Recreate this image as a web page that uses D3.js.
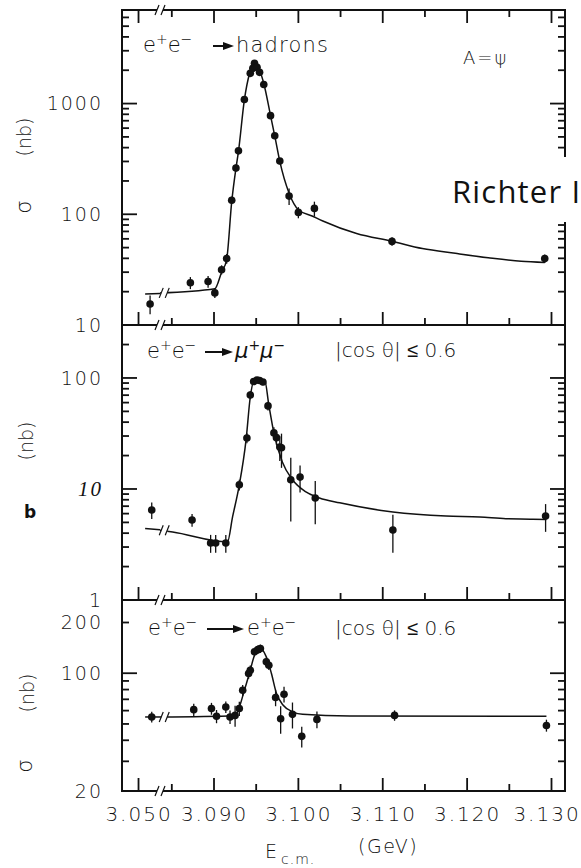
<!DOCTYPE html>
<html>
<head>
<meta charset="utf-8">
<script src="https://d3js.org/d3.v7.min.js"></script>
<style>
  body { margin: 0; background: #fff; }
  svg text { font-family: "DejaVu Sans", sans-serif; font-weight: 300; fill: #111; }
</style>
</head>
<body>
<script>
// x axis in GeV, broken between 3.0526 and 3.0836
var xMajor = [3.050, 3.090, 3.100, 3.110, 3.120, 3.130];
var xMinor = [3.085, 3.095, 3.105, 3.115, 3.125];
var xLabels = ["3.050", "3.090", "3.100", "3.110", "3.120", "3.130"];

// e+e- -> hadrons
var hadE   = [3.0514, 3.0872, 3.0893, 3.0901, 3.0909, 3.0915, 3.0921, 3.0926, 3.0929, 3.0936, 3.0943, 3.0946,
              3.0948, 3.0951, 3.0954, 3.0959, 3.0967, 3.0972, 3.0978, 3.0989, 3.1000, 3.1019, 3.1111, 3.1292];
var hadSig = [15.5, 24.1, 24.7, 19.5, 31.6, 39.8, 134, 262, 374, 1087, 1874, 2080,
              2310, 2125, 1915, 1488, 778, 512, 303, 146, 104, 113, 56.9, 39.8];
var hadErr = [3, 3, 3, 2, 3, 4, 10, 20, 25, 60, 100, 100,
              120, 110, 100, 80, 45, 30, 20, 25, 12, 17, 5, 3.5];
var hadFitLeftE = [3.0508, 3.0526];
var hadFitLeft  = [19.1, 19.3];
var hadFitE = [3.0836, 3.0901, 3.0909, 3.0915, 3.0921, 3.0926, 3.0929, 3.0936, 3.0942, 3.0948, 3.0954, 3.0959,
               3.0967, 3.0972, 3.0978, 3.0989, 3.1000, 3.1017, 3.1029, 3.1069, 3.1111, 3.1147, 3.1186, 3.1225,
               3.1264, 3.1292];
var hadFit  = [19.5, 21.3, 30, 39, 130, 260, 370, 1080, 1850, 2300, 2000, 1520,
               780, 510, 300, 155, 110, 96, 87, 67, 57, 49, 44.4, 40.5,
               37.6, 36.7];

// e+e- -> mu+mu-
var muE   = [3.0516, 3.0874, 3.0896, 3.0902, 3.0914, 3.0930, 3.0939, 3.0943, 3.0947, 3.0951, 3.0954,
             3.0958, 3.0964, 3.0971, 3.0974, 3.0978, 3.0980, 3.0991, 3.1002, 3.1020, 3.1112, 3.1293];
var muSig = [6.47, 5.26, 3.26, 3.26, 3.26, 10.9, 28.8, 70.3, 93, 96, 95,
             92, 56, 32, 29, 23.9, 23.5, 12.1, 12.8, 8.3, 4.27, 5.71];
var muErr = [1.1, 0.7, 0.6, 0.6, 0.6, 1.2, 3, 6, 6, 6, 6,
             6, 5, 4, 4, 6, 8, 7, 3.5, 3.5, 1.6, 1.6];
var muFitLeftE = [3.0508, 3.0526];
var muFitLeft  = [4.4, 4.3];
var muFitE = [3.0836, 3.0851, 3.0916, 3.0922, 3.0930, 3.0938, 3.0943, 3.0948, 3.0960, 3.0965, 3.0971,
              3.0981, 3.0993, 3.1009, 3.1025, 3.1049, 3.1112, 3.1175, 3.1215, 3.1246, 3.1278, 3.1294];
var muFit  = [4.25, 4.1, 3.34, 5.6, 10.9, 27.7, 67.4, 96, 96, 57.1, 31.9,
              17.5, 12.1, 9.4, 8.3, 7.5, 6.2, 5.7, 5.6, 5.4, 5.35, 5.3];

// e+e- -> e+e-
var eeE   = [3.0516, 3.0876, 3.0897, 3.0903, 3.0914, 3.0919, 3.0925, 3.0930, 3.0934, 3.0941, 3.0943, 3.0948,
             3.0952, 3.0955, 3.0962, 3.0965, 3.0973, 3.0979, 3.0983, 3.0993, 3.1004, 3.1022, 3.1114, 3.1294];
var eeSig = [55, 60.8, 61.7, 55.5, 63, 55, 56.2, 61.7, 79.2, 99.6, 104, 134,
             138, 140, 117, 111.6, 71.7, 53.7, 75, 57, 42.2, 53.2, 56.2, 49];
var eeErr = [4, 5, 5, 5, 5, 5, 8, 6, 6, 7, 7, 8,
             8, 8, 7, 7, 8, 10, 8, 10, 6, 6, 4, 4];
var eeFitLeftE = [3.0508, 3.0526];
var eeFitLeft  = [55, 55];
var eeFitE = [3.0836, 3.0925, 3.0930, 3.0936, 3.0942, 3.0948, 3.0954, 3.0962, 3.0968, 3.0974, 3.0982,
              3.0994, 3.1005, 3.1061, 3.1294];
var eeFit  = [55, 56, 62.8, 79.2, 100, 128, 141, 125, 100, 76, 64.5,
              58.8, 57.1, 55.8, 55.5];

var hadYLabels = [10, 100, 1000];
var muYLabels = [1, 10, 100];
var eeYLabels = [20, 100, 200];

var W = 581, H = 868, L = 122, R = 565;
var ink = "#111";

var svg = d3.select("body").append("svg").attr("width", W).attr("height", H);

var x = d3.scaleLinear()
    .domain([3.0480, 3.0526, 3.0836, 3.1316])
    .range([L, 160, 160, R]);

var panels = [
  {top: 10, bottom: 325, dom: [10, 7000], labels: hadYLabels,
   E: hadE, s: hadSig, err: hadErr, fl: [hadFitLeftE, hadFitLeft], f: [hadFitE, hadFit]},
  {top: 325, bottom: 600, dom: [1, 300], labels: muYLabels,
   E: muE, s: muSig, err: muErr, fl: [muFitLeftE, muFitLeft], f: [muFitE, muFit]},
  {top: 600, bottom: 791, dom: [20, 272], labels: eeYLabels,
   E: eeE, s: eeSig, err: eeErr, fl: [eeFitLeftE, eeFitLeft], f: [eeFitE, eeFit]}
];

function breakMark(g, cx, cy) {
  g.append("rect").attr("x", cx - 3).attr("y", cy - 5).attr("width", 6).attr("height", 10).attr("fill", "#fff");
  [-3, 3].forEach(function (o) {
    g.append("line").attr("x1", cx + o - 2).attr("y1", cy + 5).attr("x2", cx + o + 2).attr("y2", cy - 5)
      .attr("stroke", ink).attr("stroke-width", 1.2);
  });
}

// frame
svg.append("rect").attr("x", L).attr("y", 10).attr("width", R - L).attr("height", 781)
  .attr("fill", "none").attr("stroke", ink).attr("stroke-width", 2);
[325, 600].forEach(function (yy) {
  svg.append("line").attr("x1", L).attr("x2", R).attr("y1", yy).attr("y2", yy)
    .attr("stroke", ink).attr("stroke-width", 2);
});

var tickLayer = svg.append("g").attr("class", "ticks");

panels.forEach(function (p, pi) {
  var y = d3.scaleLog().domain(p.dom).range([p.bottom, p.top]);
  var g = svg.append("g");
  var all = y.ticks();
  var isMajor = function (d) { return Math.abs(Math.log10(d) - Math.round(Math.log10(d))) < 1e-9; };

  // inward y ticks on both sides, as thin filled bars
  tickLayer.append("g").selectAll("rect").data(all).join("rect")
    .attr("x", L).attr("y", function (d) { return y(d) - 0.9; })
    .attr("width", function (d) { return isMajor(d) ? 15 : 7; }).attr("height", 1.8)
    .attr("fill", ink);
  tickLayer.append("g").selectAll("rect").data(all).join("rect")
    .attr("x", function (d) { return R - (isMajor(d) ? 15 : 7); }).attr("y", function (d) { return y(d) - 0.9; })
    .attr("width", function (d) { return isMajor(d) ? 15 : 7; }).attr("height", 1.8)
    .attr("fill", ink);

  // x ticks: up from the bottom of every panel, down from the top of the first
  var xt = xMajor.concat(xMinor);
  var xlen = function (d) { return xMajor.indexOf(d) >= 0 ? 13 : 7; };
  tickLayer.append("g").selectAll("rect").data(xt).join("rect")
    .attr("x", function (d) { return x(d) - 0.9; }).attr("y", function (d) { return p.bottom - xlen(d); })
    .attr("width", 1.8).attr("height", xlen).attr("fill", ink);
  if (pi === 0) {
    tickLayer.append("g").selectAll("rect").data(xt).join("rect")
      .attr("x", function (d) { return x(d) - 0.9; }).attr("y", p.top)
      .attr("width", 1.8).attr("height", xlen).attr("fill", ink);
  }

  var yl = g.append("g").attr("transform", "translate(" + L + ",0)")
    .call(d3.axisLeft(y).tickValues(p.labels).tickSize(0).tickPadding(19).tickFormat(d3.format("d")));
  yl.select(".domain").remove();
  yl.selectAll("text").attr("font-size", 19).attr("letter-spacing", 2);
  if (pi === 1) {
    yl.selectAll("text").filter(function (d) { return d === 10; })
      .style("font-family", "'Liberation Serif', serif").style("font-style", "italic").attr("font-size", 21);
  }

  // fit curve
  var lineL = d3.line().x(function (d) { return x(d[0]); }).y(function (d) { return y(d[1]); });
  var lineR = d3.line().x(function (d) { return x(d[0]); }).y(function (d) { return y(d[1]); })
    .curve(d3.curveMonotoneX);
  g.append("path").datum(d3.zip(p.fl[0], p.fl[1])).attr("d", lineL)
    .attr("fill", "none").attr("stroke", ink).attr("stroke-width", 1.5);
  g.append("path").datum(d3.zip(p.f[0], p.f[1])).attr("d", lineR)
    .attr("fill", "none").attr("stroke", ink).attr("stroke-width", 1.5);
  breakMark(g, x(3.0841), y(p.f[1][0]));

  // data points with error bars
  var pts = d3.zip(p.E, p.s, p.err);
  g.append("g").selectAll("line").data(pts).join("line")
    .attr("x1", function (d) { return x(d[0]); }).attr("x2", function (d) { return x(d[0]); })
    .attr("y1", function (d) { return y(d[1] + d[2]); })
    .attr("y2", function (d) { return y(Math.max(d[1] - d[2], p.dom[0])); })
    .attr("stroke", ink).attr("stroke-width", 1.3);
  g.append("g").selectAll("circle").data(pts).join("circle")
    .attr("cx", function (d) { return x(d[0]); }).attr("cy", function (d) { return y(d[1]); })
    .attr("r", 3.8).attr("fill", ink);
});

[10, 325, 600, 791].forEach(function (yy) { breakMark(svg, 160, yy); });

// x labels
var xa = svg.append("g").attr("transform", "translate(0,791)")
  .call(d3.axisBottom(x).tickValues(xMajor).tickSize(0).tickPadding(16)
    .tickFormat(function (d, i) { return xLabels[i]; }));
xa.select(".domain").remove();
xa.selectAll("text").attr("font-size", 20).attr("letter-spacing", 2)
  .attr("dx", function (d, i) { return i === xLabels.length - 1 ? -5 : 0; });

svg.append("text").attr("x", 265).attr("y", 858).attr("font-size", 19).text("E");
svg.append("text").attr("x", 281).attr("y", 864).attr("font-size", 14).attr("letter-spacing", 1).text("c.m.");
svg.append("text").attr("x", 358).attr("y", 853).attr("font-size", 19).attr("letter-spacing", 1.5).text("(GeV)");

// y axis titles
function rot(tx, ty, size, s) {
  svg.append("text").attr("transform", "translate(" + tx + "," + ty + ") rotate(-90)")
    .attr("text-anchor", "middle").attr("font-size", size).text(s);
}
rot(31, 137, 19, "(nb)");
rot(31, 207, 21, "σ");
rot(33, 441, 19, "(nb)");
svg.append("text").attr("x", 30).attr("y", 518).attr("text-anchor", "middle")
  .attr("font-size", 17).style("font-weight", 700).text("b");
rot(34, 693, 19, "(nb)");
rot(32, 766, 21, "σ");

// reaction titles
function arrow(x0, x1, yy) {
  svg.append("line").attr("x1", x0).attr("x2", x1 - 8).attr("y1", yy).attr("y2", yy)
    .attr("stroke", ink).attr("stroke-width", 2);
  svg.append("path").attr("d", "M" + (x1 - 11) + "," + (yy - 4) + "L" + x1 + "," + yy + "L" + (x1 - 11) + "," + (yy + 4) + "Z")
    .attr("fill", ink);
}
function pair(tx, ty, base) {
  var t = svg.append("text").attr("x", tx).attr("y", ty).attr("font-size", 21);
  t.append("tspan").text(base);
  t.append("tspan").attr("dy", -8).attr("font-size", 14).text("+");
  t.append("tspan").attr("dy", 8).text(base);
  t.append("tspan").attr("dy", -8).attr("font-size", 14).text("\u2212");
  return t;
}
pair(143, 52, "e");
arrow(213, 234, 46);
svg.append("text").attr("x", 236).attr("y", 52).attr("font-size", 21).attr("letter-spacing", 1.2).text("hadrons");
svg.append("text").attr("x", 463).attr("y", 64).attr("font-size", 18).attr("letter-spacing", 2).text("A=ψ");

pair(147, 358, "e");
arrow(205, 233, 352);
pair(235, 358, "μ").style("font-style", "italic");
svg.append("text").attr("x", 335).attr("y", 357).attr("font-size", 20).text("|cos θ| ≤ 0.6");

pair(148, 635, "e");
arrow(207, 244, 629);
pair(247, 635, "e");
svg.append("text").attr("x", 335).attr("y", 635).attr("font-size", 20).text("|cos θ| ≤ 0.6");

// slide annotation over the right axis
svg.append("rect").attr("x", 448).attr("y", 157).attr("width", 133).attr("height", 65).attr("fill", "#fff");
svg.append("text").attr("x", 452).attr("y", 203).attr("font-size", 31).attr("letter-spacing", 1.2)
  .style("font-family", "'Open Sans', sans-serif").style("font-weight", 400).attr("fill", "#000")
  .text("Richter I");
</script>
</body>
</html>
